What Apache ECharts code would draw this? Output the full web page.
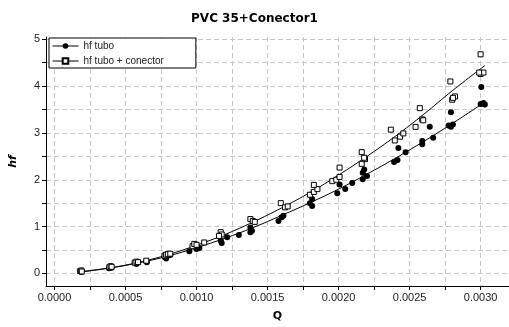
<!DOCTYPE html>
<html>
<head>
<meta charset="utf-8">
<script src="https://cdn.jsdelivr.net/npm/echarts@6/dist/echarts.min.js"></script>
<style>
  html, body { margin: 0; padding: 0; background: #fff; }
  #chart { width: 509px; height: 327px; }
</style>
</head>
<body>
<div id="chart"></div>
<script>
// measured points [Q, hf]
const tuboPts = [
  [0.000181, 0.04], [0.000186, 0.05], [0.000190, 0.06], [0.000190, 0.03],
  [0.000383, 0.11], [0.000390, 0.13], [0.000395, 0.15], [0.000402, 0.12],
  [0.000565, 0.22], [0.000577, 0.20], [0.000588, 0.23], [0.000646, 0.26], [0.000650, 0.24],
  [0.000775, 0.35], [0.000786, 0.32], [0.000798, 0.38], [0.000815, 0.39],
  [0.000949, 0.47], [0.000995, 0.56], [0.001000, 0.52], [0.001020, 0.54],
  [0.001170, 0.70], [0.001177, 0.65], [0.001216, 0.77], [0.001298, 0.82],
  [0.001379, 0.88], [0.001390, 0.91], [0.001379, 0.98],
  [0.001577, 1.12], [0.001600, 1.20], [0.001612, 1.23],
  [0.001798, 1.50], [0.001814, 1.44], [0.001814, 1.59],
  [0.001991, 1.71], [0.002007, 1.90], [0.002047, 1.80], [0.002096, 1.93],
  [0.002170, 2.01], [0.002200, 2.08], [0.002170, 2.15], [0.002181, 2.22],
  [0.002391, 2.38], [0.002415, 2.42], [0.002421, 2.68], [0.002472, 2.59],
  [0.002589, 2.76], [0.002589, 2.83], [0.002642, 3.13], [0.002666, 2.90],
  [0.002775, 3.16], [0.002791, 3.13], [0.002805, 3.18], [0.002791, 3.44],
  [0.003000, 3.62], [0.003005, 3.98], [0.003020, 3.64], [0.003030, 3.61]
];
const conectorPts = [
  [0.000181, 0.05], [0.000188, 0.06], [0.000192, 0.04],
  [0.000386, 0.13], [0.000395, 0.15], [0.000402, 0.14],
  [0.000565, 0.23], [0.000577, 0.25], [0.000588, 0.24], [0.000646, 0.27],
  [0.000775, 0.38], [0.000786, 0.40], [0.000798, 0.41], [0.000815, 0.42],
  [0.000972, 0.58], [0.000984, 0.63], [0.001000, 0.61], [0.001054, 0.66],
  [0.001170, 0.88], [0.001177, 0.83], [0.001158, 0.80],
  [0.001379, 1.16], [0.001396, 1.12], [0.001410, 1.10],
  [0.001593, 1.50], [0.001623, 1.41], [0.001642, 1.43],
  [0.001798, 1.68], [0.001826, 1.74], [0.001851, 1.80], [0.001826, 1.89],
  [0.001956, 1.97], [0.001984, 2.00], [0.002007, 2.06], [0.002007, 2.26],
  [0.002163, 2.34], [0.002163, 2.59], [0.002186, 2.44], [0.002180, 2.47],
  [0.002368, 3.07], [0.002396, 2.84], [0.002433, 2.92], [0.002456, 2.99],
  [0.002542, 3.13], [0.002589, 3.29], [0.002596, 3.27], [0.002572, 3.53],
  [0.002787, 4.10], [0.002800, 3.71], [0.002820, 3.78], [0.002806, 3.75],
  [0.003000, 4.68], [0.003000, 4.26], [0.003020, 4.29], [0.002990, 4.29]
];

// fitted trend curves, read along Q
const fitQ = [0.00019, 0.0004, 0.0006, 0.0008, 0.001, 0.0012, 0.0014, 0.0016,
  0.0018, 0.002, 0.0022, 0.0024, 0.0026, 0.0028, 0.00303];
const fitTubo = [0.04, 0.12, 0.23, 0.37, 0.55, 0.75, 0.98, 1.24, 1.51, 1.80,
  2.12, 2.46, 2.82, 3.20, 3.66];
const fitConector = [0.03, 0.12, 0.24, 0.40, 0.60, 0.83, 1.10, 1.40, 1.73, 2.10,
  2.50, 2.93, 3.40, 3.90, 4.44];

const xTicks = [0, 0.00025, 0.0005, 0.00075, 0.001, 0.00125, 0.0015, 0.00175,
  0.002, 0.00225, 0.0025, 0.00275, 0.003];
const xLabels = [0, 0.0005, 0.001, 0.0015, 0.002, 0.0025, 0.003];
const yTicks = [0, 0.5, 1, 1.5, 2, 2.5, 3, 3.5, 4, 4.5, 5];
const yLabels = [0, 1, 2, 3, 4, 5];

const font = 'Liberation Sans';
const gridLine = { show: true, lineStyle: { color: '#c8c8c8', type: [5, 3], width: 1 } };

const chart = echarts.init(document.getElementById('chart'));
chart.setOption({
  animation: false,
  backgroundColor: '#fff',
  title: {
    text: 'PVC 35+Conector1',
    left: 'center',
    top: 8,
    textStyle: { fontFamily: 'DejaVu Sans', fontSize: 12, fontWeight: 'bold', color: '#000' }
  },
  legend: {
    orient: 'vertical',
    left: 49,
    top: 38,
    padding: [3, 32, 2, 3],
    itemWidth: 26,
    itemHeight: 7,
    itemGap: 5,
    borderColor: '#000',
    borderWidth: 1,
    borderRadius: 0,
    backgroundColor: '#fff',
    textStyle: { fontFamily: font, fontSize: 10, color: '#222' },
    data: [
      { name: 'hf tubo', lineStyle: { width: 1, opacity: 1, color: '#000' } },
      { name: 'hf tubo + conector', lineStyle: { width: 1, opacity: 1, color: '#000' } }
    ]
  },
  grid: { left: 42, right: 0, top: 37, bottom: 40 },
  xAxis: {
    type: 'value',
    min: -0.00006,
    max: 0.0032,
    name: 'Q',
    nameLocation: 'middle',
    nameGap: 25,
    nameTextStyle: { fontFamily: 'DejaVu Sans', fontSize: 11, fontWeight: 'bold', color: '#000' },
    axisLine: { show: true, onZero: false, lineStyle: { color: '#000', width: 1 } },
    axisTick: { show: true, length: 4, customValues: xTicks, lineStyle: { color: '#000' } },
    axisLabel: {
      customValues: xLabels,
      fontFamily: font, fontSize: 11, color: '#222', margin: 6,
      formatter: v => v.toFixed(4)
    },
    splitLine: gridLine
  },
  yAxis: {
    type: 'value',
    min: -0.27,
    max: 5.05,
    name: 'hf',
    nameLocation: 'middle',
    nameGap: 27,
    nameTextStyle: { fontFamily: 'DejaVu Sans', fontSize: 11, fontWeight: 'bold', fontStyle: 'italic', color: '#000' },
    axisLine: { show: true, onZero: false, lineStyle: { color: '#000', width: 1 } },
    axisTick: { show: true, length: 4, customValues: yTicks, lineStyle: { color: '#000' } },
    axisLabel: {
      customValues: yLabels,
      fontFamily: font, fontSize: 11, color: '#222', margin: 6
    },
    splitLine: gridLine
  },
  series: [
    {
      type: 'line',
      name: 'fitTubo',
      data: fitQ.map((q, i) => [q, fitTubo[i]]),
      smooth: 0.4,
      showSymbol: false,
      lineStyle: { color: '#000', width: 1 },
      z: 1
    },
    {
      type: 'line',
      name: 'fitConector',
      data: fitQ.map((q, i) => [q, fitConector[i]]),
      smooth: 0.4,
      showSymbol: false,
      lineStyle: { color: '#000', width: 1 },
      z: 1
    },
    {
      type: 'line',
      name: 'hf tubo',
      data: tuboPts,
      symbol: 'circle',
      symbolSize: 6,
      showSymbol: true,
      lineStyle: { width: 0, opacity: 0 },
      itemStyle: { color: '#000', borderWidth: 0 },
      z: 3
    },
    {
      type: 'line',
      name: 'hf tubo + conector',
      data: conectorPts,
      symbol: 'rect',
      symbolSize: 5,
      showSymbol: true,
      lineStyle: { width: 0, opacity: 0 },
      itemStyle: { color: '#fff', borderColor: '#000', borderWidth: 1 },
      z: 4
    }
  ]
});
</script>
</body>
</html>
